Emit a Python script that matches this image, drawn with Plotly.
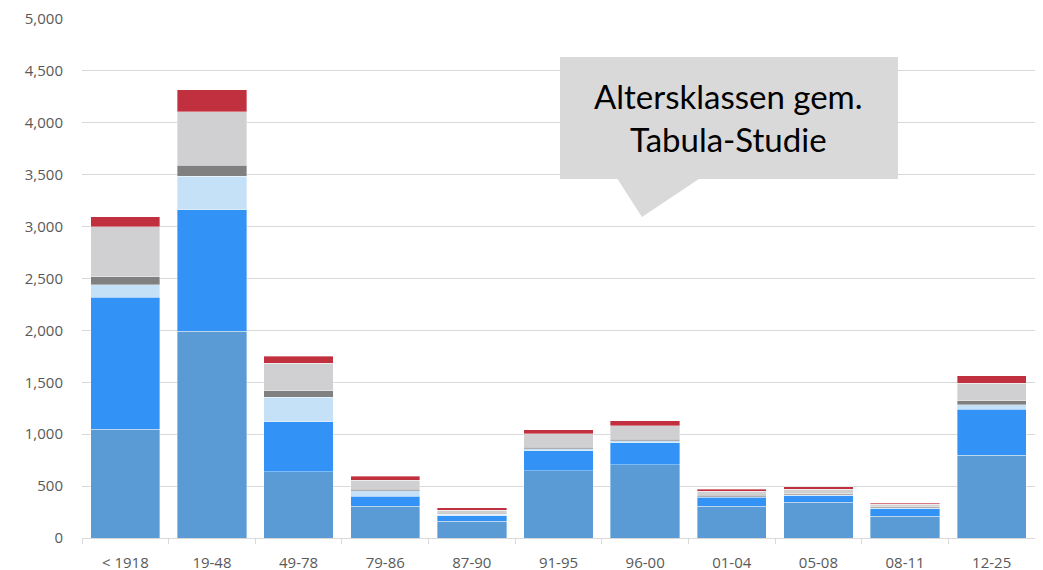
import plotly.graph_objects as go

categories = ["< 1918", "19-48", "49-78", "79-86", "87-90", "91-95", "96-00", "01-04", "05-08", "08-11", "12-25"]

series_1 = [1050, 1990, 640, 305, 163, 650, 705, 305, 345, 210, 795]
series_2 = [1268, 1174, 480, 97, 51, 192, 214, 88, 60, 70, 444]
series_3 = [121, 323, 236, 55, 15, 20, 20, 5, 10, 12, 47]
series_4 = [80, 105, 61, 12, 8, 10, 10, 15, 10, 9, 36]
series_5 = [479, 514, 265, 86, 32, 134, 134, 38, 44, 23, 169]
series_6 = [96, 211, 70, 38, 23, 38, 48, 20, 26, 12, 70]

series = [
    ("Serie 1", series_1, "#5B9BD5"),
    ("Serie 2", series_2, "#3392F5"),
    ("Serie 3", series_3, "#C5E1F7"),
    ("Serie 4", series_4, "#808080"),
    ("Serie 5", series_5, "#D0D0D2"),
    ("Serie 6", series_6, "#C0303F"),
]

callout_text = "Altersklassen gem.<br>Tabula-Studie"

fig = go.Figure()
for name, vals, color in series:
    fig.add_trace(go.Bar(
        x=categories, y=vals, name=name,
        marker=dict(color=color, line=dict(color="rgba(255,255,255,0.45)", width=0.8)),
    ))

font_family = "Open Sans, Liberation Sans, sans-serif"

fig.update_layout(
    barmode="stack",
    bargap=0.2,
    width=1043, height=570,
    margin=dict(l=74, r=16, t=11, b=40, autoexpand=False),
    plot_bgcolor="white", paper_bgcolor="white",
    showlegend=False,
    font=dict(family=font_family, size=15, color="#595959"),
    xaxis=dict(
        type="category", automargin=False,
        showgrid=False, showline=True, linecolor="#D9D9D9", linewidth=1,
        ticks="outside", tickson="boundaries", ticklen=5, tickcolor="#D9D9D9",
        ticklabelstandoff=11, ticklabeloverflow="allow",
        tickfont=dict(size=15, color="#595959"),
    ),
    yaxis=dict(
        automargin=False,
        range=[0, 5000], dtick=500, tickformat=",",
        showgrid=True, gridcolor="#D9D9D9", gridwidth=1,
        zeroline=False, showline=False,
        ticks="", ticklabelstandoff=18, ticklabeloverflow="allow",
        tickfont=dict(size=15, color="#595959"),
    ),
)

# callout box (paper coordinates derived from plot area)
box_x0, box_x1, box_y0, box_y1 = 0.5016, 0.8562, 0.6917, 0.9268
fig.add_shape(type="rect", xref="paper", yref="paper",
              x0=box_x0, x1=box_x1, y0=box_y0, y1=box_y1,
              fillcolor="#D9D9D9", line=dict(width=0), layer="above")
fig.add_shape(type="path", xref="paper", yref="paper",
              path="M 0.5614 0.6930 L 0.6485 0.6930 L 0.5876 0.6185 Z",
              fillcolor="#D9D9D9", line=dict(width=0), layer="above")
fig.add_annotation(xref="paper", yref="paper", x=(box_x0 + box_x1) / 2, y=(box_y0 + box_y1) / 2,
                   xanchor="center", yanchor="middle",
                   text=callout_text, showarrow=False, align="center",
                   font=dict(family="Lato, Open Sans, sans-serif", size=33, color="#000000"))

fig.write_html("out.html")
